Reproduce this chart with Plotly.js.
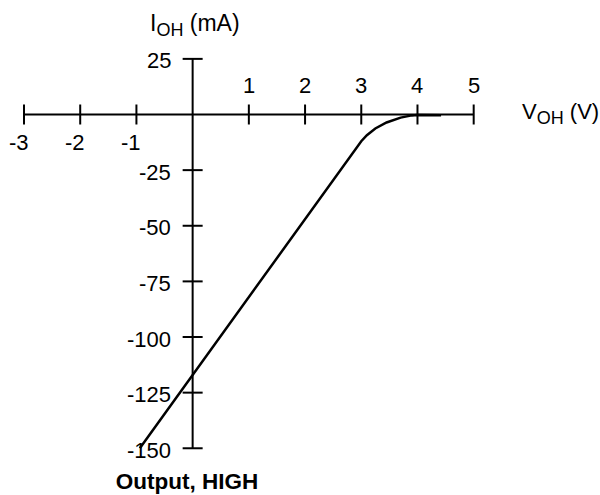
<!DOCTYPE html>
<html>
<head>
<meta charset="utf-8">
<script src="https://cdn.plot.ly/plotly-3.0.1.min.js"></script>
<style>html,body{margin:0;padding:0;background:#fff;}#chart{width:600px;height:495px;}</style>
</head>
<body>
<div id="chart"></div>
<script>
// Data
const vOH = [-0.94, 0, 3.0, 3.1, 3.25, 3.45, 3.7, 3.9, 4.0, 4.42];
const iOH = [-150, -117, -12, -9.3, -6.3, -3.6, -1.4, -0.4, -0.2, -0.3];

const xTicks = [-3, -2, -1, 1, 2, 3, 4, 5];
const xTickLabels = ['-3', '-2', '-1', '1', '2', '3', '4', '5'];
const yTicks = [25, -25, -50, -75, -100, -125, -150];
const yTickLabels = ['25', '-25', '-50', '-75', '-100', '-125', '-150'];

const xAxisRange = [-3, 5];
const yAxisRange = [-150, 25];

const FONT = 'Liberation Sans, Arial, Helvetica, sans-serif';
const FS = 22;

const traces = [
  { x: xAxisRange, y: [0, 0], mode: 'lines', line: {color: '#000', width: 2}, hoverinfo: 'skip', showlegend: false },
  { x: [0, 0], y: yAxisRange, mode: 'lines', line: {color: '#000', width: 2}, hoverinfo: 'skip', showlegend: false },
  { x: vOH, y: iOH, mode: 'lines', line: {color: '#000', width: 2.5}, showlegend: false, name: 'IOH' }
];

const shapes = [];
xTicks.forEach(v => shapes.push({
  type: 'line', xref: 'x', yref: 'y', ysizemode: 'pixel', yanchor: 0,
  x0: v, x1: v, y0: -10, y1: 10, line: {color: '#000', width: 2}
}));
yTicks.forEach(v => shapes.push({
  type: 'line', xref: 'x', yref: 'y', xsizemode: 'pixel', xanchor: 0,
  x0: -10, x1: 10, y0: v, y1: v, line: {color: '#000', width: 2}
}));

const annotations = [];
xTicks.forEach((v, i) => {
  const neg = v < 0;
  annotations.push({
    x: v, y: 0, xref: 'x', yref: 'y', text: xTickLabels[i], showarrow: false,
    xanchor: 'center', yanchor: 'middle', xshift: neg ? -5 : 0, yshift: neg ? -28 : 29,
    font: {family: FONT, size: FS, color: '#000'}
  });
});
yTicks.forEach((v, i) => {
  annotations.push({
    x: 0, y: v, xref: 'x', yref: 'y', text: yTickLabels[i], showarrow: false,
    xanchor: 'right', yanchor: 'middle', xshift: -20, yshift: -2,
    font: {family: FONT, size: FS, color: '#000'}
  });
});
annotations.push({
  x: 0, y: 25, xref: 'x', yref: 'y', text: 'I<sub><span style="font-size:18px">OH</span></sub> (mA)', showarrow: false,
  xanchor: 'center', yanchor: 'middle', xshift: 2, yshift: 34,
  font: {family: FONT, size: 23, color: '#000'}
});
annotations.push({
  x: 5, y: 0, xref: 'x', yref: 'y', text: 'V<sub><span style="font-size:18px">OH</span></sub> (V)', showarrow: false,
  xanchor: 'left', yanchor: 'middle', xshift: 46, yshift: 1,
  font: {family: FONT, size: FS, color: '#000'}
});

const layout = {
  width: 600, height: 495,
  margin: {l: 0, r: 0, t: 0, b: 0},
  paper_bgcolor: '#fff', plot_bgcolor: '#fff',
  title: {
    text: '<b>Output, HIGH</b>', x: 187/600, xref: 'paper', y: 1 - 481/495, yref: 'container',
    xanchor: 'center', yanchor: 'middle',
    font: {family: FONT, size: 22.5, color: '#000'}
  },
  xaxis: {range: [-3.427, 7.247], visible: false, fixedrange: true},
  yaxis: {range: [-171.0, 51.46], visible: false, fixedrange: true},
  shapes: shapes,
  annotations: annotations,
  showlegend: false
};

Plotly.newPlot('chart', traces, layout, {staticPlot: true, displayModeBar: false});
</script>
</body>
</html>
